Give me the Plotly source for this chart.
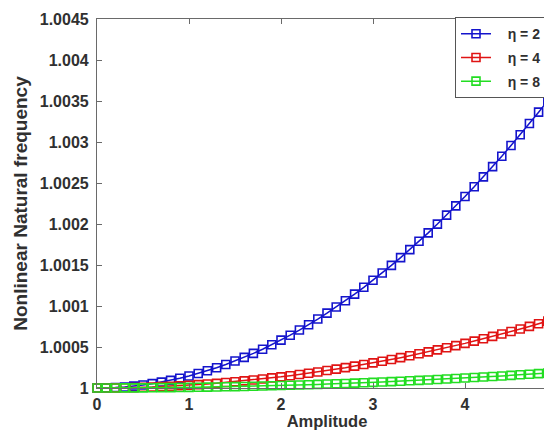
import plotly.graph_objects as go

# Amplitude samples
amplitude = [round(0.1 * i, 1) for i in range(51)]

# Deviation of the nonlinear natural frequency from 1, in units of 1e-6
dev_eta2 = [0, 1, 6, 13, 23, 37, 53, 72, 93, 118, 146, 177, 210, 247, 286, 329, 374, 422, 473, 527,
            584, 644, 707, 772, 841, 913, 987, 1064, 1145, 1228, 1314, 1403, 1495, 1590, 1688, 1789,
            1892, 1999, 2108, 2221, 2336, 2454, 2575, 2700, 2827, 2957, 3089, 3225, 3364, 3505, 3650]
dev_eta4 = [0, 0, 1, 3, 5, 9, 12, 17, 22, 28, 34, 41, 49, 57, 67, 77, 87, 98, 110, 123,
            136, 150, 165, 180, 196, 213, 230, 248, 267, 286, 306, 327, 348, 370, 393, 417,
            441, 465, 491, 517, 544, 572, 600, 629, 658, 689, 719, 751, 783, 816, 850]
dev_eta8 = [0, 0, 0, 1, 1, 2, 3, 4, 5, 6, 8, 9, 11, 13, 15, 17, 19, 22, 25, 27,
            30, 34, 37, 40, 44, 48, 51, 55, 60, 64, 68, 73, 78, 83, 88, 93,
            98, 104, 110, 116, 122, 128, 134, 141, 147, 154, 161, 168, 175, 182, 190]

series_names = ["\u03b7 = 2", "\u03b7 = 4", "\u03b7 = 8"]
series_colors = ["#1414CC", "#E01414", "#22DD22"]

y_tick_vals = [1, 1.0005, 1.001, 1.0015, 1.002, 1.0025, 1.003, 1.0035, 1.004, 1.0045]
y_tick_text = ["1", "1.0005", "1.001", "1.0015", "1.002", "1.0025", "1.003", "1.0035", "1.004", "1.0045"]
x_tick_vals = [0, 1, 2, 3, 4, 5]
x_tick_text = ["0", "1", "2", "3", "4", "5"]

# The page has an 8px body margin; the figure runs slightly past the window on the right
W, H = 549, 424
L, R, T, B = 89, 0, 11, 44

font_family = "Liberation Sans, Arial, sans-serif"
text_color = "#303030"
axis_color = "#6a6a6a"
pad = "\u00a0"

fig = go.Figure()
for name, dev, col in zip(series_names, [dev_eta2, dev_eta4, dev_eta8], series_colors):
    fig.add_trace(go.Scatter(
        x=amplitude,
        y=[1 + d * 1e-6 for d in dev],
        mode="lines+markers",
        name=pad * 3 + name + pad * 3,
        legendgroup=name,
        line=dict(color=col, width=1.5),
        marker=dict(symbol="square-open", size=8, color=col, line=dict(width=1.6, color=col)),
        cliponaxis=False,
    ))

fig.update_layout(
    width=W, height=H,
    margin=dict(l=L, r=R, t=T, b=B, autoexpand=False),
    paper_bgcolor="white", plot_bgcolor="white",
    font=dict(family=font_family, color=text_color, size=15, weight="bold"),
    showlegend=True,
    legend=dict(
        x=(447 - L) / (W - L - R), y=1.005, xanchor="left", yanchor="top",
        bgcolor="white", bordercolor="#555555", borderwidth=1,
        font=dict(family=font_family, size=14, color=text_color, weight="bold"),
        tracegroupgap=2.5, traceorder="grouped",
    ),
    xaxis=dict(
        range=[0, 5], tickvals=x_tick_vals, ticktext=x_tick_text,
        showgrid=False, zeroline=False,
        showline=True, linecolor=axis_color, linewidth=1.2, mirror="allticks",
        ticks="inside", ticklen=5, tickcolor=axis_color, tickwidth=1,
        ticklabelstandoff=2,
        tickfont=dict(size=16, family=font_family, color=text_color, weight="bold"),
        title=dict(text="Amplitude", standoff=3,
                   font=dict(size=16.5, family=font_family, color=text_color, weight="bold")),
    ),
    yaxis=dict(
        range=[1, 1.0045], tickvals=y_tick_vals, ticktext=y_tick_text,
        showgrid=False, zeroline=False,
        showline=True, linecolor=axis_color, linewidth=1.2, mirror="allticks",
        ticks="inside", ticklen=5, tickcolor=axis_color, tickwidth=1,
        ticklabelstandoff=4,
        tickfont=dict(size=16, family=font_family, color=text_color, weight="bold"),
        title=dict(text="Nonlinear Natural frequency", standoff=7,
                   font=dict(size=19, family=font_family, color=text_color, weight="bold")),
    ),
)

fig.write_html("out.html")
